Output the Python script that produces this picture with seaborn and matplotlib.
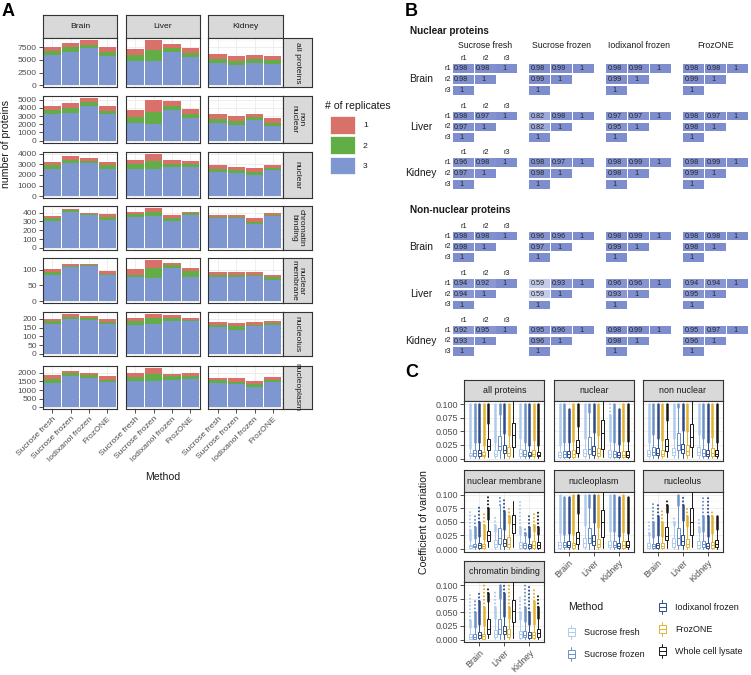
import numpy as np
import matplotlib
matplotlib.use("Agg")
import matplotlib.pyplot as plt
import seaborn as sns
from matplotlib.patches import Patch, Rectangle
from matplotlib.lines import Line2D
from matplotlib.legend_handler import HandlerBase
from matplotlib.colors import LinearSegmentedColormap, Normalize
from matplotlib.ticker import MultipleLocator, FormatStrFormatter

sns.set_theme(style="white")
plt.rcParams["font.family"] = ["Liberation Sans", "DejaVu Sans"]
plt.rcParams["patch.force_edgecolor"] = False

# ============================
# Data
# ============================
tissues = ["Brain", "Liver", "Kidney"]
methods_a = ["Sucrose fresh", "Sucrose frozen", "Iodixanol frozen", "FrozONE"]
methods_c = ["Sucrose fresh", "Sucrose frozen", "Iodixanol frozen", "FrozONE", "Whole cell lysate"]

# ---- Panel A: proteins found in 3 / 2 / 1 replicates (rows = tissue, cols = method)
all_proteins_3 = [[5900, 6600, 7300, 5800], [4750, 4700, 6500, 5550], [4450, 4050, 4450, 4300]]
all_proteins_2 = [[800, 900, 750, 800], [1200, 2250, 900, 800], [700, 800, 650, 650]]
all_proteins_1 = [[900, 950, 850, 900], [1200, 2050, 850, 950], [950, 950, 900, 850]]

non_nuclear_3 = [[3250, 3400, 4200, 3200], [2150, 2000, 3700, 2800], [2100, 1850, 2500, 1800]]
non_nuclear_2 = [[500, 600, 500, 400], [750, 1550, 550, 500], [500, 500, 350, 400]]
non_nuclear_1 = [[500, 600, 500, 600], [800, 1450, 550, 600], [600, 600, 450, 600]]

nuclear_3 = [[2600, 3150, 3100, 2600], [2600, 2600, 2750, 2750], [2300, 2200, 2000, 2450]]
nuclear_2 = [[300, 300, 200, 300], [450, 750, 300, 250], [300, 300, 300, 200]]
nuclear_1 = [[350, 300, 300, 350], [350, 650, 350, 300], [350, 300, 350, 300]]

chromatin_3 = [[310, 405, 375, 315], [355, 365, 310, 375], [340, 335, 270, 360]]
chromatin_2 = [[25, 20, 10, 37], [30, 40, 30, 18], [12, 10, 28, 12]]
chromatin_1 = [[30, 12, 15, 33], [25, 50, 35, 15], [25, 25, 40, 18]]

membrane_3 = [[82, 108, 110, 83], [75, 73, 104, 77], [77, 75, 79, 67]]
membrane_2 = [[10, 4, 3, 4], [7, 33, 10, 19], [5, 7, 4, 8]]
membrane_1 = [[10, 7, 4, 9], [20, 23, 8, 10], [10, 10, 8, 8]]

nucleolus_3 = [[174, 200, 196, 174], [168, 170, 191, 187], [153, 138, 157, 168]]
nucleolus_2 = [[15, 13, 10, 9], [21, 38, 15, 5], [13, 19, 11, 7]]
nucleolus_1 = [[13, 13, 13, 15], [19, 22, 15, 16], [19, 22, 15, 14]]

nucleoplasm_3 = [[1440, 1800, 1720, 1460], [1550, 1550, 1610, 1630], [1400, 1330, 1200, 1460]]
nucleoplasm_2 = [[190, 170, 150, 150], [220, 400, 200, 170], [190, 130, 170, 150]]
nucleoplasm_1 = [[240, 150, 150, 220], [250, 350, 150, 170], [130, 220, 150, 170]]

rows_a = [
    ("all proteins", all_proteins_3, all_proteins_2, all_proteins_1, 2500),
    ("non\nnuclear", non_nuclear_3, non_nuclear_2, non_nuclear_1, 1000),
    ("nuclear", nuclear_3, nuclear_2, nuclear_1, 1000),
    ("chromatin\nbinding", chromatin_3, chromatin_2, chromatin_1, 100),
    ("nuclear\nmembrane", membrane_3, membrane_2, membrane_1, 50),
    ("nucleolus", nucleolus_3, nucleolus_2, nucleolus_1, 50),
    ("nucleoplasm", nucleoplasm_3, nucleoplasm_2, nucleoplasm_1, 500),
]

# ---- Panel B: replicate correlations, one triangle per method (SF, SZ, IF, FrozONE)
nuc_brain = [[[0.98, 0.98, 1], [0.98, 1], [1]], [[0.98, 0.99, 1], [0.99, 1], [1]],
             [[0.98, 0.99, 1], [0.99, 1], [1]], [[0.98, 0.98, 1], [0.99, 1], [1]]]
nuc_liver = [[[0.98, 0.97, 1], [0.97, 1], [1]], [[0.82, 0.98, 1], [0.82, 1], [1]],
             [[0.97, 0.97, 1], [0.95, 1], [1]], [[0.98, 0.97, 1], [0.98, 1], [1]]]
nuc_kidney = [[[0.96, 0.98, 1], [0.97, 1], [1]], [[0.98, 0.97, 1], [0.98, 1], [1]],
              [[0.98, 0.99, 1], [0.98, 1], [1]], [[0.98, 0.99, 1], [0.99, 1], [1]]]
non_brain = [[[0.98, 0.98, 1], [0.98, 1], [1]], [[0.96, 0.96, 1], [0.97, 1], [1]],
             [[0.98, 0.99, 1], [0.99, 1], [1]], [[0.98, 0.98, 1], [0.98, 1], [1]]]
non_liver = [[[0.94, 0.92, 1], [0.94, 1], [1]], [[0.59, 0.93, 1], [0.59, 1], [1]],
             [[0.96, 0.96, 1], [0.93, 1], [1]], [[0.94, 0.94, 1], [0.95, 1], [1]]]
non_kidney = [[[0.92, 0.95, 1], [0.93, 1], [1]], [[0.95, 0.96, 1], [0.96, 1], [1]],
              [[0.98, 0.99, 1], [0.98, 1], [1]], [[0.95, 0.97, 1], [0.96, 1], [1]]]

# ---- Panel C: CV box stats per tissue x method
# (lower whisker, q1, median, q3, upper whisker, top of dense outliers, top of sparse outliers)
cv_all = [
    [(.001, .004, .007, .010, .020, .100, .100), (.001, .005, .010, .016, .030, .100, .100), (.001, .005, .010, .015, .030, .100, .100), (.001, .004, .007, .012, .024, .100, .100), (.002, .015, .023, .036, .066, .100, .100)],
    [(.001, .004, .009, .015, .030, .100, .100), (.001, .015, .023, .042, .082, .100, .100), (.001, .010, .016, .025, .047, .100, .100), (.001, .005, .010, .021, .044, .100, .100), (.002, .022, .043, .066, .130, 0, 0)],
    [(.001, .005, .010, .018, .037, .100, .100), (.001, .004, .008, .015, .031, .100, .100), (.001, .004, .007, .012, .024, .100, .100), (.001, .004, .009, .016, .034, .100, .100), (.001, .004, .007, .012, .024, .100, .100)],
]
cv_nuclear = [
    [(.001, .003, .007, .012, .025, .100, .100), (.001, .003, .008, .014, .030, .100, .100), (.001, .003, .009, .014, .030, .090, .090), (.001, .003, .008, .015, .033, .100, .100), (.002, .011, .022, .034, .060, .100, .100)],
    [(.001, .004, .010, .018, .038, .100, .100), (.001, .009, .018, .040, .085, .100, .100), (.001, .006, .014, .023, .048, .100, .100), (.001, .004, .010, .020, .044, .100, .100), (.002, .018, .047, .070, .130, 0, 0)],
    [(.001, .003, .008, .015, .033, .080, .100), (.001, .003, .008, .014, .030, .100, .100), (.001, .002, .006, .012, .027, .090, .090), (.001, .002, .007, .014, .032, .100, .100), (.001, .002, .007, .014, .032, .100, .100)],
]
cv_non_nuclear = [
    [(.001, .005, .009, .015, .030, .100, .100), (.001, .006, .012, .022, .045, .100, .100), (.001, .006, .011, .019, .038, .100, .100), (.001, .004, .009, .016, .034, .100, .100), (.002, .013, .023, .036, .070, .100, .100)],
    [(.001, .006, .012, .019, .038, .100, .100), (.001, .015, .025, .047, .095, .100, .100), (.001, .010, .017, .027, .052, .100, .100), (.001, .007, .013, .025, .050, .100, .100), (.002, .021, .040, .063, .126, 0, 0)],
    [(.001, .006, .012, .022, .045, .100, .100), (.001, .005, .010, .018, .037, .100, .100), (.001, .004, .008, .015, .031, .100, .100), (.001, .005, .011, .019, .040, .100, .100), (.001, .004, .008, .015, .031, .100, .100)],
]
cv_membrane = [
    [(.001, .002, .005, .008, .017, .035, .070), (.001, .003, .006, .010, .020, .040, .060), (.001, .002, .007, .011, .024, .050, .080), (.001, .002, .006, .009, .019, .045, .065), (.003, .015, .025, .034, .055, .075, .098)],
    [(.001, .004, .009, .016, .034, .045, .060), (.001, .009, .020, .039, .080, .080, .100), (.001, .006, .012, .018, .036, .070, .095), (.001, .004, .010, .022, .048, .060, .075), (.004, .030, .046, .062, .089, 0, 0)],
    [(.001, .002, .007, .013, .028, .040, .090), (.001, .002, .007, .012, .026, .030, .040), (.001, .002, .006, .010, .022, .040, .060), (.001, .002, .008, .015, .033, .045, .070), (.001, .002, .007, .013, .028, .040, .070)],
]
cv_nucleoplasm = [
    [(.001, .002, .007, .013, .030, .100, .100), (.001, .003, .008, .013, .028, .095, .095), (.001, .003, .008, .014, .030, .095, .095), (.001, .002, .007, .012, .027, .100, .100), (.001, .009, .020, .032, .066, .100, .100)],
    [(.001, .004, .011, .020, .044, .100, .100), (.001, .011, .020, .038, .078, .100, .100), (.001, .008, .015, .025, .050, .100, .100), (.001, .004, .010, .019, .041, .100, .100), (.002, .023, .050, .072, .130, 0, 0)],
    [(.001, .003, .008, .015, .033, .100, .100), (.001, .003, .008, .015, .033, .100, .100), (.001, .002, .006, .011, .024, .095, .095), (.001, .002, .007, .014, .032, .100, .100), (.001, .003, .008, .014, .030, .095, .095)],
]
cv_nucleolus = [
    [(.001, .002, .006, .012, .025, .030, .050), (.001, .002, .006, .010, .022, .050, .082), (.001, .002, .007, .012, .026, .060, .085), (.001, .002, .006, .011, .024, .050, .070), (.002, .017, .024, .041, .068, .080, .093)],
    [(.001, .004, .011, .020, .044, .050, .060), (.001, .008, .020, .038, .080, .100, .100), (.001, .007, .014, .026, .054, .080, .100), (.001, .003, .010, .019, .043, .060, .075), (.003, .026, .050, .076, .120, 0, 0)],
    [(.001, .002, .008, .014, .032, .040, .055), (.001, .003, .009, .015, .033, .060, .098), (.001, .002, .006, .011, .024, .060, .095), (.001, .002, .007, .013, .029, .060, .070), (.001, .004, .010, .017, .036, .060, .060)],
]
cv_chromatin = [
    [(.001, .001, .005, .010, .023, .035, .085), (.001, .001, .005, .010, .023, .050, .070), (.001, .002, .008, .013, .029, .070, .085), (.001, .001, .006, .011, .026, .060, .100), (.002, .010, .020, .037, .070, .085, .095)],
    [(.001, .004, .010, .018, .039, .060, .090), (.001, .010, .020, .037, .077, .100, .100), (.001, .011, .016, .024, .044, .085, .100), (.001, .005, .010, .019, .040, .060, .100), (.003, .032, .052, .072, .120, 0, 0)],
    [(.001, .002, .010, .016, .037, .050, .080), (.001, .004, .009, .016, .034, .060, .100), (.001, .002, .008, .013, .029, .050, .100), (.001, .002, .008, .013, .029, .070, .090), (.001, .005, .012, .019, .040, .060, .080)],
]

# ============================
# Styling / layout helpers (pixel based)
# ============================
W, H = 751, 675
fig = plt.figure(figsize=(W / 100, H / 100), dpi=100)


def rect(x0, y0, x1, y1):
    return [x0 / W, 1 - y1 / H, (x1 - x0) / W, (y1 - y0) / H]


def pt(x, y):
    return (x / W, 1 - y / H)


EDGE = "#333333"
TICK = "#4D4D4D"
rep_colors = ["#7F97D1", "#62AD45", "#D9716B"]  # 3, 2, 1 replicates
method_colors = ["#AFCBEC", "#6D92C6", "#2E4C8A", "#E3B22F", "#1A1A1A"]


def style_panel(ax, size):
    ax.set_facecolor("white")
    for s in ax.spines.values():
        s.set_visible(True)
        s.set_color(EDGE)
        s.set_linewidth(0.8)
    ax.grid(which="major", color="#EBEBEB", linewidth=0.6)
    ax.grid(which="minor", axis="y", color="#F3F3F3", linewidth=0.35)
    ax.set_axisbelow(True)
    ax.tick_params(which="major", direction="out", length=2.8, width=0.6,
                   color=EDGE, labelsize=size, labelcolor=TICK, pad=1.5)
    ax.tick_params(which="minor", length=0)


def strip(x0, y0, x1, y1, text, rotation=0, size=6.1):
    s = fig.add_axes(rect(x0, y0, x1, y1))
    s.set_facecolor("#D9D9D9")
    s.set_xticks([])
    s.set_yticks([])
    for sp in s.spines.values():
        sp.set_visible(True)
        sp.set_color(EDGE)
        sp.set_linewidth(0.8)
    s.text(0.5, 0.5, text, rotation=rotation, ha="center", va="center",
           fontsize=size, color="#1A1A1A", transform=s.transAxes, linespacing=1.0)


# background axes in pixel coordinates for panel B tiles
bg = fig.add_axes([0, 0, 1, 1])
bg.set_xlim(0, W)
bg.set_ylim(H, 0)
bg.set_axis_off()

# ============================
# Panel A
# ============================
a_col_x0 = [42.7, 125.7, 208.3]
a_col_w = 74.3
a_row_top = [37.7, 96.0, 151.7, 205.7, 258.3, 311.7, 365.7]
a_row_bot = [87.3, 142.7, 198.3, 250.0, 303.3, 356.0, 409.3]
a_strip_x = (283.0, 311.5)

for c, tissue in enumerate(tissues):
    strip(a_col_x0[c], 15, a_col_x0[c] + a_col_w, a_row_top[0], tissue)

x = np.arange(len(methods_a))
for r, (label, rep3, rep2, rep1, step) in enumerate(rows_a):
    totals = np.array(rep3) + np.array(rep2) + np.array(rep1)
    top = totals.max()
    for c, tissue in enumerate(tissues):
        ax = fig.add_axes(rect(a_col_x0[c], a_row_top[r], a_col_x0[c] + a_col_w, a_row_bot[r]))
        style_panel(ax, 6.1)
        b3, b2, b1 = np.array(rep3[c]), np.array(rep2[c]), np.array(rep1[c])
        ax.bar(x, b3, width=0.93, color=rep_colors[0], linewidth=0, zorder=2)
        ax.bar(x, b2, bottom=b3, width=0.93, color=rep_colors[1], linewidth=0, zorder=2)
        ax.bar(x, b1, bottom=b3 + b2, width=0.93, color=rep_colors[2], linewidth=0, zorder=2)
        ax.set_xlim(-0.53, 3.53)
        ax.set_ylim(-0.05 * top, 1.05 * top)
        ax.yaxis.set_major_locator(MultipleLocator(step))
        ax.yaxis.set_minor_locator(MultipleLocator(step / 2))
        ax.set_xticks(x)
        last = r == len(rows_a) - 1
        ax.tick_params(axis="x", bottom=last, labelbottom=last)
        ax.tick_params(axis="y", left=(c == 0), labelleft=(c == 0))
        if last:
            ax.set_xticklabels(methods_a, rotation=45, ha="right", va="top",
                               rotation_mode="anchor")
    strip(a_strip_x[0], a_row_top[r], a_strip_x[1], a_row_bot[r], label, rotation=-90)

fig.text(*pt(162.5, 477), "Method", ha="center", va="center", fontsize=7.6, color="#1A1A1A")
fig.text(*pt(6.5, 144), "number of proteins", ha="center", va="center", rotation=90,
         fontsize=7.6, color="#1A1A1A")

fig.text(*pt(325, 106), "# of replicates", ha="left", va="center", fontsize=7.6, color="#1A1A1A")
fig.legend(handles=[Patch(facecolor=rep_colors[2], edgecolor="white", linewidth=0.5),
                    Patch(facecolor=rep_colors[1], edgecolor="white", linewidth=0.5),
                    Patch(facecolor=rep_colors[0], edgecolor="white", linewidth=0.5)],
           labels=["1", "2", "3"], loc="upper left", bbox_to_anchor=pt(330, 116),
           frameon=False, fontsize=6.1, handlelength=2.95, handleheight=2.83,
           labelspacing=0.31, handletextpad=0.94, borderpad=0, borderaxespad=0,
           labelcolor="#1A1A1A")

# ============================
# Panel B
# ============================
b_mat_x0 = [452.7, 529.0, 606.0, 683.3]
b_cell_w = 21.8
b_cell_h = 8.5
b_pitch = 10.8
b_blocks = [("Nuclear proteins", 31, [nuc_brain, nuc_liver, nuc_kidney], [68.7, 116.0, 162.7]),
            ("Non-nuclear proteins", 210, [non_brain, non_liver, non_kidney], [236.0, 283.3, 330.0])]
corr_cmap = LinearSegmentedColormap.from_list("corr", ["#FFFFFF", "#7E8DCD"])
corr_norm = Normalize(0.24, 1.0)

for m, method in enumerate(methods_a):
    fig.text(*pt(b_mat_x0[m] + 1.5 * b_cell_w, 46), method, ha="center", va="center",
             fontsize=6.3, color="#1A1A1A")

for title, ty, mats, y_r1 in b_blocks:
    fig.text(*pt(410, ty), title, ha="left", va="center", fontsize=7.2,
             fontweight="bold", color="#1A1A1A")
    for t, tissue in enumerate(tissues):
        y0 = y_r1[t]
        fig.text(*pt(421, y0 + b_pitch), tissue, ha="center", va="center",
                 fontsize=7.4, color="#1A1A1A")
        for k in range(3):
            fig.text(*pt(b_mat_x0[0] + (k + 0.5) * b_cell_w, y0 - 9.7), f"r{k + 1}",
                     ha="center", va="center", fontsize=5.2, color="#1A1A1A")
            fig.text(*pt(451, y0 + k * b_pitch), f"r{k + 1}", ha="right", va="center",
                     fontsize=5.2, color="#1A1A1A")
        for m in range(len(methods_a)):
            for i, row in enumerate(mats[t][m]):
                yc = y0 + i * b_pitch
                lefts = [b_mat_x0[m] + j * b_cell_w for j in range(len(row))]
                bg.bar(lefts, [b_cell_h] * len(row), width=b_cell_w - 0.7,
                       bottom=yc - b_cell_h / 2, align="edge", linewidth=0,
                       color=[corr_cmap(corr_norm(v)) for v in row])
                for xl, v in zip(lefts, row):
                    bg.text(xl + 8.5, yc + 0.3, f"{v:g}", ha="center", va="center",
                            fontsize=5.2, color="#262626")

# ============================
# Panel C
# ============================
c_col_x0 = [464.3, 553.7, 642.7]
c_w = 80
c_strip_top = [380.0, 470.5, 561.0]
c_strip_h = 21.3
c_panel_h = 60
c_facets = [("all proteins", cv_all, 0, 0), ("nuclear", cv_nuclear, 1, 0),
            ("non nuclear", cv_non_nuclear, 2, 0), ("nuclear membrane", cv_membrane, 0, 1),
            ("nucleoplasm", cv_nucleoplasm, 1, 1), ("nucleolus", cv_nucleolus, 2, 1),
            ("chromatin binding", cv_chromatin, 0, 2)]
bottom_panels = {(0, 2), (1, 1), (2, 1)}

for name, data, col, row in c_facets:
    x0 = c_col_x0[col]
    ytop = c_strip_top[row] + c_strip_h
    strip(x0, c_strip_top[row], x0 + c_w, ytop, name, size=6.4)
    ax = fig.add_axes(rect(x0, ytop, x0 + c_w, ytop + c_panel_h))
    style_panel(ax, 6.5)
    for j, color in enumerate(method_colors):
        stats_rows = [data[i][j] for i in range(len(tissues))]
        pos = [i + (j - 2) * 0.18 for i in range(len(tissues))]
        stats = [dict(whislo=s[0], q1=s[1], med=s[2], q3=s[3], whishi=s[4], fliers=[])
                 for s in stats_rows]
        line = dict(color=color, linewidth=0.7)
        ax.bxp(stats, positions=pos, widths=0.13, showfliers=False, showcaps=False,
               patch_artist=True, manage_ticks=False, zorder=3,
               boxprops=dict(facecolor="white", edgecolor=color, linewidth=0.7),
               whiskerprops=line, medianprops=line)
        for p, s in zip(pos, stats_rows):
            if s[5] > s[4]:
                ax.plot([p, p], [s[4], s[5]], color=color, lw=1.8,
                        solid_capstyle="round", zorder=2.5)
            start = max(s[4], s[5])
            if s[6] > start:
                ax.plot([p, p], [start, s[6]], color=color, lw=1.5,
                        ls=(0, (0.01, 1.7)), dash_capstyle="round", zorder=2.5)
    ax.set_xlim(-0.6, 2.6)
    ax.set_ylim(-0.005, 0.105)
    ax.set_xticks(range(len(tissues)))
    ax.yaxis.set_major_locator(MultipleLocator(0.025))
    ax.yaxis.set_minor_locator(MultipleLocator(0.0125))
    ax.yaxis.set_major_formatter(FormatStrFormatter("%.3f"))
    show_x = (col, row) in bottom_panels
    ax.tick_params(axis="x", bottom=show_x, labelbottom=show_x)
    ax.tick_params(axis="y", left=(col == 0), labelleft=(col == 0))
    if show_x:
        ax.set_xticklabels(tissues, rotation=45, ha="right", va="top", rotation_mode="anchor")

fig.text(*pt(424, 522), "Coefficient of variation", ha="center", va="center",
         rotation=90, fontsize=7.6, color="#1A1A1A")


class BoxKey(HandlerBase):
    def create_artists(self, legend, orig_handle, xdescent, ydescent, width, height,
                       fontsize, trans):
        c = orig_handle.get_color()
        x0, y0 = -xdescent, -ydescent
        xm = x0 + width / 2
        whisk = Line2D([xm, xm], [y0, y0 + height], color=c, lw=0.7, transform=trans)
        box = Rectangle((x0, y0 + 0.2 * height), width, 0.6 * height, facecolor="white",
                        edgecolor=c, lw=0.7, transform=trans)
        med = Line2D([x0, x0 + width], [y0 + height / 2] * 2, color=c, lw=0.7, transform=trans)
        return [whisk, box, med]


key_handles = [Line2D([], [], color=c) for c in method_colors]
fig.text(*pt(567.7, 607), "Method", ha="left", va="center", fontsize=7.6, color="#1A1A1A")
leg_kw = dict(loc="upper left", frameon=False, fontsize=6.5, handlelength=0.81,
              handleheight=2.0, labelspacing=0.89, handletextpad=1.0, borderpad=0,
              borderaxespad=0, handler_map={Line2D: BoxKey()}, labelcolor="#1A1A1A")
fig.legend(handles=key_handles[:2], labels=methods_c[:2], bbox_to_anchor=pt(567.7, 625), **leg_kw)
fig.legend(handles=key_handles[2:], labels=methods_c[2:], bbox_to_anchor=pt(658.5, 600), **leg_kw)

# ============================
# Panel letters
# ============================
for letter, (lx, ly) in zip("ABC", [(2, 3), (405, 3), (405, 364)]):
    fig.text(*pt(lx, ly), letter, ha="left", va="top", fontsize=13, fontweight="bold",
             color="#000000")

fig.savefig("out.png", dpi=100)
